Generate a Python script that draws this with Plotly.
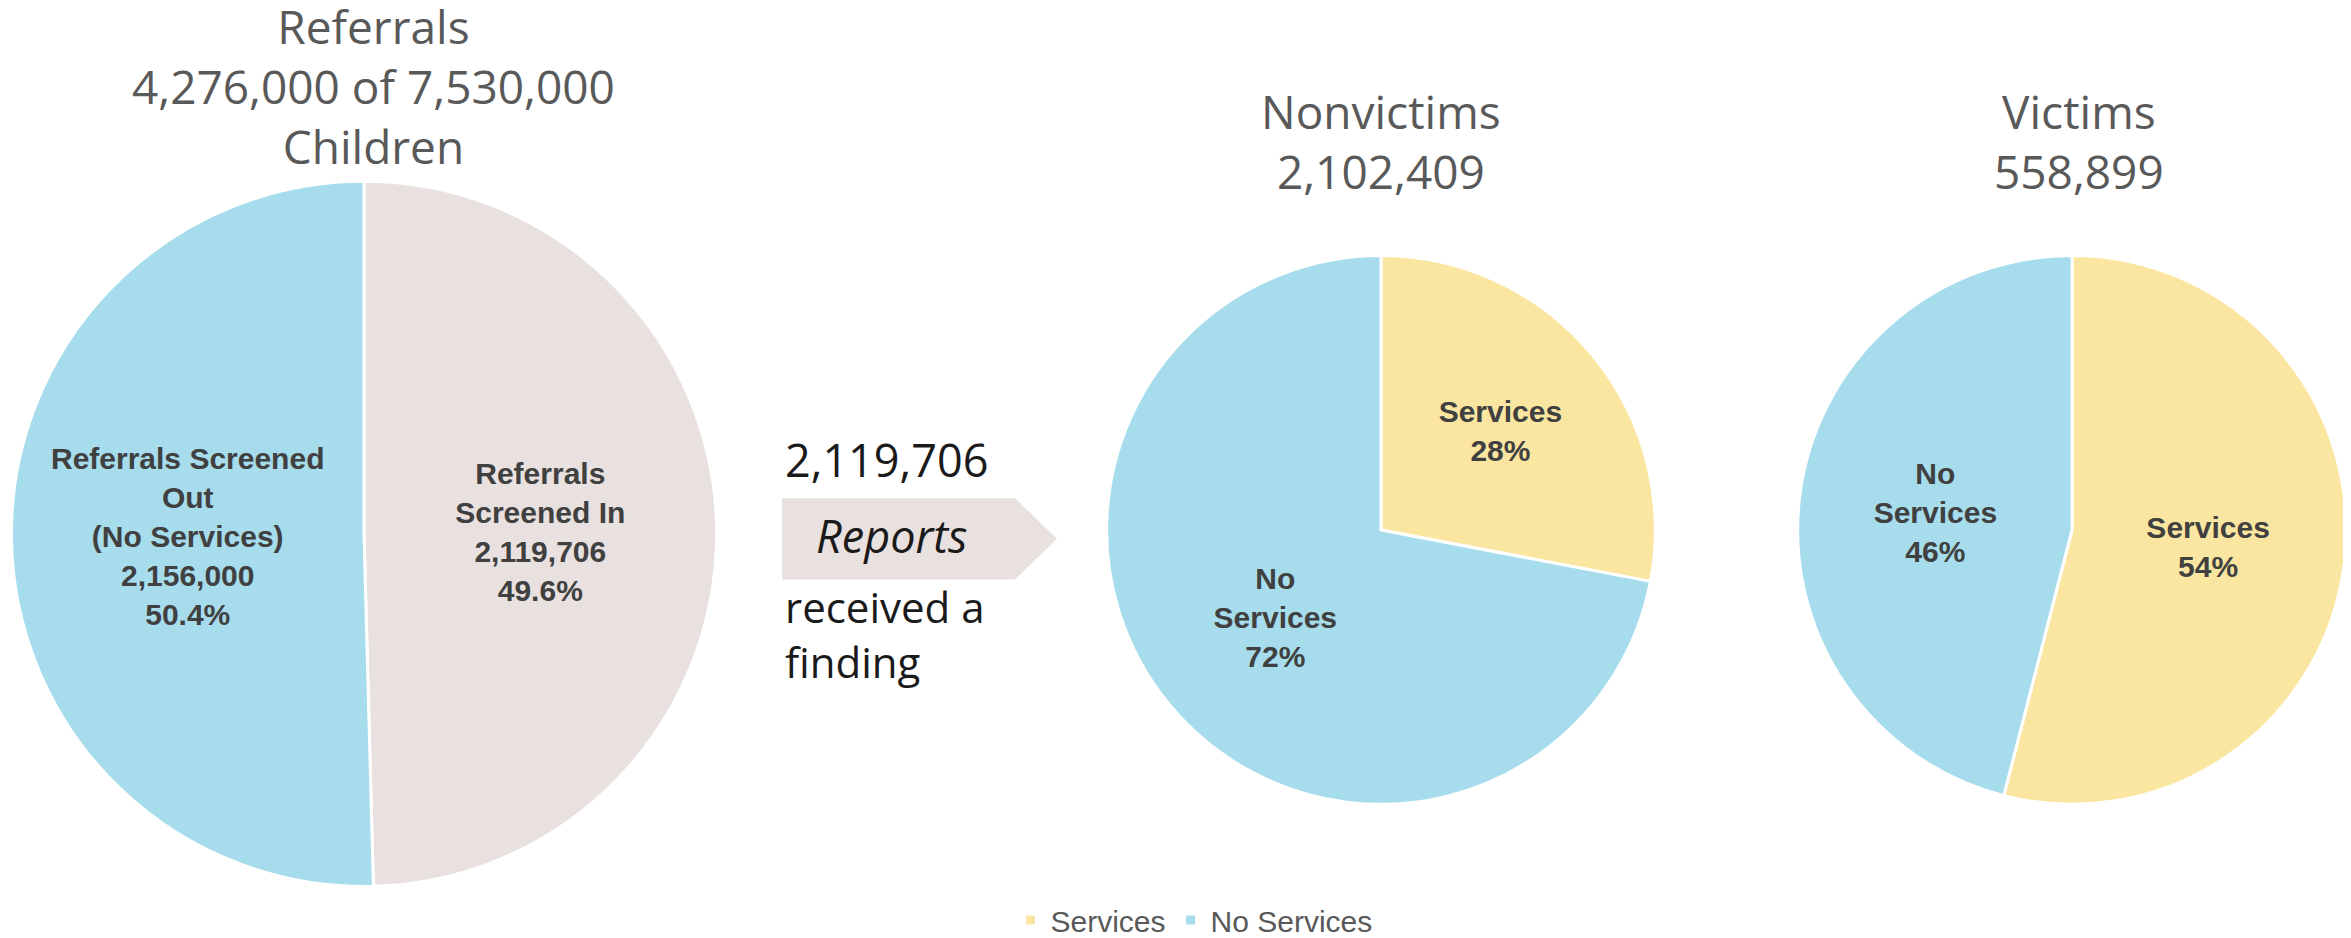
import plotly.graph_objects as go

# ---- data ----
ref_labels = ["Referrals<br>Screened In", "Referrals Screened<br>Out<br>(No Services)"]
ref_values = [2119706, 2156000]
ref_colors = ["#E8E1DF", "#A6DCEC"]

svc_labels = ["Services", "No Services"]
svc_text = ["Services", "No<br>Services"]
nonvictim_pct = [28, 72]
victim_pct = [54, 46]
svc_colors = ["#FAE6A0", "#A6DCEC"]

title_ref = "Referrals<br>4,276,000 of 7,530,000<br>Children"
title_nonv = "Nonvictims<br>2,102,409"
title_vic = "Victims<br>558,899"
reports_count = "2,119,706"

# The page body has a default 8px left margin, so the figure is narrowed and
# horizontal screen positions are converted to figure fractions.
OFF = 8
W, H = 2351 - OFF, 938

def px(x):
    return (x - OFF) / W

def py(y):
    return 1 - y / H

def dom(cx, cy, r):
    return dict(x=[px(cx - r), px(cx + r)], y=[py(cy + r), py(cy - r)])

label_font = dict(family="Liberation Sans, Arial", size=30, color="#404040", weight="bold")
line = dict(color="white", width=3)

fig = go.Figure()

fig.add_trace(go.Pie(
    labels=ref_labels, values=ref_values,
    marker=dict(colors=ref_colors, line=line),
    sort=False, direction="clockwise", rotation=0,
    texttemplate="%{label}<br>%{value:,}<br>%{percent:.1%}",
    textposition="inside", insidetextorientation="horizontal",
    textfont=label_font, showlegend=False, hoverinfo="label+value+percent",
    domain=dom(364, 531, 356),
))

fig.add_trace(go.Pie(
    labels=svc_labels, values=nonvictim_pct, text=svc_text,
    marker=dict(colors=svc_colors, line=line),
    sort=False, direction="clockwise", rotation=0,
    texttemplate="%{text}<br>%{percent:.0%}",
    textposition="inside", insidetextorientation="horizontal",
    textfont=label_font,
    domain=dom(1381, 527, 277),
))

fig.add_trace(go.Pie(
    labels=svc_labels, values=victim_pct, text=svc_text,
    marker=dict(colors=svc_colors, line=line),
    sort=False, direction="clockwise", rotation=0,
    texttemplate="%{text}<br>%{percent:.0%}",
    textposition="inside", insidetextorientation="horizontal",
    textfont=label_font,
    domain=dom(2072, 527, 277),
))

title_font = dict(family="Open Sans", size=46, color="#595959")
body_font = dict(family="Open Sans", size=45, color="#1a1a1a")

annotations = [
    dict(text=title_ref, x=px(373), y=py(79), xanchor="center", yanchor="middle", font=title_font),
    dict(text=title_nonv, x=px(1381), y=py(134), xanchor="center", yanchor="middle", font=title_font),
    dict(text=title_vic, x=px(2079), y=py(134), xanchor="center", yanchor="middle", font=title_font),
    dict(text=reports_count, x=px(783), y=py(456), xanchor="left", yanchor="middle", font=body_font),
    dict(text="<i>Reports</i>", x=px(814), y=py(533), xanchor="left", yanchor="middle", font=body_font),
    dict(text="received a<br>finding", x=px(783), y=py(632), xanchor="left", yanchor="middle",
         align="left", font=dict(family="Open Sans", size=42, color="#1a1a1a")),
]
for a in annotations:
    a.update(xref="paper", yref="paper", showarrow=False)

arrow = dict(
    type="path", xref="paper", yref="paper",
    path=(f"M {px(782)},{py(495)} L {px(1015)},{py(495)} L {px(1057)},{py(536)} "
          f"L {px(1015)},{py(577)} L {px(782)},{py(577)} Z"),
    fillcolor="#E8E1DF", line=dict(width=0), layer="below",
)

fig.update_layout(
    width=W, height=H,
    margin=dict(l=0, r=0, t=0, b=0),
    paper_bgcolor="white", plot_bgcolor="white",
    annotations=annotations, shapes=[arrow],
    legend=dict(orientation="h", x=px(1194), xanchor="center", y=py(921), yanchor="middle",
                font=dict(family="Liberation Sans, Arial", size=30, color="#595959"),
                traceorder="normal"),
)

fig.write_html("out.html")
